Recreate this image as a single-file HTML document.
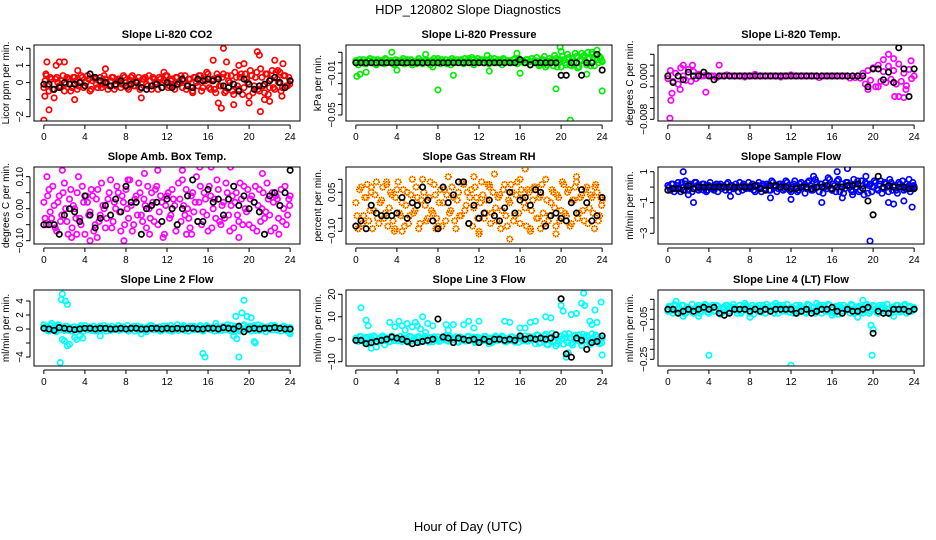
<!DOCTYPE html>
<html><head><meta charset="utf-8"><style>
html,body{margin:0;padding:0;background:#fff;}
svg{display:block;font-family:"Liberation Sans",Arial,sans-serif;}
</style></head><body>
<svg id="chart" width="936" height="540" viewBox="0 0 936 540">
<text x="468" y="14" text-anchor="middle" font-size="13">HDP_120802  Slope Diagnostics</text>
<text x="468" y="531" text-anchor="middle" font-size="13">Hour of Day (UTC)</text>
</svg>
<script>
const hours=[0,0.25,0.5,0.75,1,1.25,1.5,1.75,2,2.25,2.5,2.75,3,3.25,3.5,3.75,4,4.25,4.5,4.75,5,5.25,5.5,5.75,6,6.25,6.5,6.75,7,7.25,7.5,7.75,8,8.25,8.5,8.75,9,9.25,9.5,9.75,10,10.25,10.5,10.75,11,11.25,11.5,11.75,12,12.25,12.5,12.75,13,13.25,13.5,13.75,14,14.25,14.5,14.75,15,15.25,15.5,15.75,16,16.25,16.5,16.75,17,17.25,17.5,17.75,18,18.25,18.5,18.75,19,19.25,19.5,19.75,20,20.25,20.5,20.75,21,21.25,21.5,21.75,22,22.25,22.5,22.75,23,23.25,23.5,23.75,24];
const hoursB=[0.12,0.37,0.62,0.87,1.12,1.37,1.62,1.87,2.12,2.37,2.62,2.87,3.12,3.37,3.62,3.87,4.12,4.37,4.62,4.87,5.12,5.37,5.62,5.87,6.12,6.37,6.62,6.87,7.12,7.37,7.62,7.87,8.12,8.37,8.62,8.87,9.12,9.37,9.62,9.87,10.12,10.37,10.62,10.87,11.12,11.37,11.62,11.87,12.12,12.37,12.62,12.87,13.12,13.37,13.62,13.87,14.12,14.37,14.62,14.87,15.12,15.37,15.62,15.87,16.12,16.37,16.62,16.87,17.12,17.37,17.62,17.87,18.12,18.37,18.62,18.87,19.12,19.37,19.62,19.87,20.12,20.37,20.62,20.87,21.12,21.37,21.62,21.87,22.12,22.37,22.62,22.87,23.12,23.37,23.62,23.87,23.95];
const blackHours=[0,0.5,1,1.5,2,2.5,3,3.5,4,4.5,5,5.5,6,6.5,7,7.5,8,8.5,9,9.5,10,10.5,11,11.5,12,12.5,13,13.5,14,14.5,15,15.5,16,16.5,17,17.5,18,18.5,19,19.5,20,20.5,21,21.5,22,22.5,23,23.5,24];
const xTicks=[0,4,8,12,16,20,24];

// Panel 1 CO2
const co2Band=[-0.3,0.4,-0.5,0.2,-0.4,0.3,-0.2,0.1,-0.5,0.3,0.2,-0.3,0.3,-0.4,0.0,0.3,-0.2,0.4,-0.5,0.1,0.2,-0.3,0.3,-0.1,0.2,-0.4,0.1,0.3,-0.2,0.2,-0.3,0.4,0.0,-0.4,0.3,-0.2,0.1,0.3,-0.3,0.2,-0.1,0.4,-0.4,0.2,0.0,0.3,-0.3,0.1,0.4,-0.2,0.2,-0.4,0.3,0.0,-0.3,0.4,-0.1,0.2,-0.5,0.3,-0.2,0.4,-0.3,0.1,0.5,-0.4,0.2,-0.6,0.3,-0.2,0.5,-0.5,0.1,0.4,-0.7,0.3,-0.4,0.5,-0.3,0.2,-0.8,0.4,-0.2,0.6,-0.5,0.3,-0.6,0.5,-0.3,0.7,-0.4,0.2,0.6,-0.3,0.4,-0.2,0.1];
const co2BandB=[0.1,-0.2,0.3,-0.4,0.2,0.0,-0.3,0.4,-0.1,0.2,-0.5,0.3,0.1,-0.2,0.4,-0.3,0.0,0.2,-0.4,0.3,-0.1,0.1,-0.3,0.4,0.0,-0.2,0.3,-0.4,0.1,0.2,-0.1,0.3,-0.3,0.1,0.4,-0.2,0.0,-0.4,0.2,0.3,-0.2,0.1,0.3,-0.1,-0.4,0.2,0.0,0.4,-0.3,0.1,-0.2,0.3,-0.1,0.4,0.1,-0.4,0.2,-0.3,0.3,0.0,0.4,-0.5,0.2,0.6,-0.3,0.1,-0.4,0.5,-0.2,0.3,-0.6,0.4,0.0,-0.5,0.6,-0.2,0.3,-0.7,0.5,0.0,0.7,-0.6,0.3,-0.4,0.8,-0.2,0.5,-0.7,0.2,-0.3,0.6,0.0,-0.5,0.4,-0.2,0.3,-0.1];
const co2OutT=[0,0.1,0.3,0.5,0.2,1,1.5,2,1.2,3,3.3,6,9.5,11.7,14.5,16.5,17,17.3,17.5,17.8,18.5,19,19.5,20,20.8,21,21.1,21.5,22,22.5,23.2,23.3,22.8];
const co2OutV=[-2.2,-0.8,1.2,-1.6,0.5,-0.9,1.2,1.2,1.0,-1.0,0.7,0.8,-0.9,0.6,-0.6,1.3,-1.2,-1.5,2.0,1.2,-1.3,1.0,1.1,-1.2,1.8,1.6,-1.7,-1.0,-1.1,1.3,-0.8,1.1,0.7];
const co2Black=[-0.1,-0.1,-0.4,-0.3,0.0,-0.1,-0.1,0.0,-0.2,0.5,0.3,0.1,0.0,-0.2,-0.1,0.1,-0.2,-0.1,0.0,-0.3,-0.4,-0.2,-0.1,-0.3,0.0,-0.3,-0.1,0.2,-0.2,-0.3,0.2,0.1,0.2,0.1,0.2,-0.2,-0.3,-0.1,-0.5,0.2,-0.1,-0.4,-0.2,-0.1,0.1,0.3,0.0,-0.3,0.1];

// Panel 2 pressure
const presBand=[0.002,-0.002,0.001,0.003,-0.001,0.002,0.000,0.003,-0.002,0.001,0.002,-0.001,0.003,0.000,0.002,-0.002,0.001,0.000,0.002,-0.001,0.003,0.000,-0.002,0.001,0.002,0.000,-0.001,0.002,0.001,-0.002,0.000,0.002,0.004,-0.001,0.001,0.003,0.000,-0.002,0.002,0.001,0.000,0.003,-0.001,0.001,0.004,0.000,-0.002,0.002,0.001,0.003,0.000,0.001,-0.001,0.002,0.004,0.000,0.001,-0.002,0.003,0.001,0.002,0.000,0.004,-0.001,0.001,0.002,0.000,0.003,-0.002,0.001,0.002,0.000,-0.002,0.003,-0.004,0.001,0.002,-0.003,0.004,0.000,-0.004,0.003,-0.002,0.005,-0.003,0.001,0.006,-0.004,0.002,0.007,-0.002,0.004,0.008,-0.003,0.003,0.006,0.001];
const presBandB=[0.000,0.003,0.001,-0.001,0.002,0.004,0.001,-0.001,0.003,0.002,0.000,0.004,0.001,0.002,-0.001,0.003,0.002,0.001,0.004,0.000,0.002,0.003,0.001,-0.001,0.004,0.002,0.000,0.003,0.001,0.002,0.004,0.000,0.002,0.003,0.001,-0.001,0.002,0.004,0.000,0.003,0.002,0.001,0.004,0.002,0.000,0.003,0.001,0.004,0.002,0.000,0.003,0.002,0.004,0.001,0.000,0.003,0.002,0.004,0.001,0.002,0.000,0.003,0.001,0.004,0.002,0.000,0.003,0.001,0.004,0.002,0.005,-0.003,0.003,0.006,-0.002,0.004,0.001,0.007,-0.004,0.003,0.006,0.000,0.008,-0.002,0.004,0.009,-0.005,0.003,0.006,0.001,0.010,-0.003,0.005,0.007,0.000,0.004,0.002];
const presOutT=[0.1,0.4,1,3.5,4,6.8,7.5,8,9.5,11.3,12.8,13,15.7,16,19.5,20,20.9,22,22.5,23,24,23.5,19.9];
const presOutV=[-0.013,-0.011,-0.009,0.010,-0.007,0.008,-0.004,-0.026,-0.012,0.005,0.007,-0.008,0.009,-0.010,-0.025,0.011,-0.055,0.009,-0.011,0.010,-0.027,0.012,0.015];
const presBlack=[0.000,0.000,0.000,0.000,0.000,0.000,0.000,0.000,0.000,0.000,0.000,0.000,0.000,0.000,0.000,0.000,0.000,0.000,0.000,0.000,0.000,0.000,0.000,0.000,0.000,0.000,0.000,0.000,0.000,0.000,0.000,0.000,0.003,0.000,-0.002,0.000,0.000,0.000,0.000,0.000,-0.012,-0.012,0.000,0.000,-0.012,0.000,0.000,0.008,-0.007];

// Panel 3 temperature
const tempBand=[-0.0005,0.001,-0.001,0.0005,-0.0015,0.0015,0.0,-0.0008,0.0012,-0.001,0.0008,-0.0005,0.0003,0,0,0.0002,0,0,0,-0.0003,0,0,0,0.0002,0,0,0,0,0,0,-0.0002,0,0,0,0.0003,0,0,0,0,0,0,0,0,0,-0.0002,0,0,0,0.0002,0,0,0,0,0,0,0,0,0,0,-0.0003,0,0,0,0,0,0,0,0,0,0,0,-0.0004,0,-0.0003,0,-0.0004,0.0005,-0.0015,0.001,-0.0008,0.0015,-0.002,0.002,-0.001,0.0008,-0.0012,0.0018,-0.0006,0.001,-0.0015,0.0022,-0.001,0.0005,-0.0018,0.0012,-0.0005,0.0];
const tempOutT=[0.2,0.3,0.4,1.2,1.5,2.4,3.7,5,19.5,20.5,21,21.5,22,22.5,23,23.7,23.2,22.1];
const tempOutV=[-0.0078,-0.0045,-0.0032,-0.0025,0.002,0.002,-0.003,0.002,-0.0025,-0.002,0.003,0.004,0.0032,-0.0038,-0.004,0.0028,-0.0025,-0.0038];
const tempBlack=[0,-0.0012,0,-0.0007,0.0007,0,0,0.0007,0,-0.0007,0,0,0,0,0,0,0,0,0,0,0,0,0,0,0,0,0,0,0,0,0,0,0,0,0,0,0,0,0,-0.002,0.0013,0.0013,-0.0007,0.0007,-0.0012,0.0052,0.0013,-0.0038,0.0013];

// Panel 4 ambient box temp
const ambBandA=[0.02,-0.05,0.06,-0.03,0.01,-0.07,0.04,-0.02,0.08,-0.04,0.03,-0.06,0.00,0.05,-0.03,0.07,-0.08,0.02,-0.01,0.04,-0.05,0.06,-0.02,0.01,-0.06,0.03,0.09,-0.04,0.00,0.05,-0.07,0.02,0.06,-0.03,0.01,-0.05,0.04,0.08,-0.02,0.03,-0.06,0.00,0.05,-0.04,0.07,-0.01,0.02,-0.08,0.04,-0.03,0.06,0.01,-0.05,0.03,0.09,-0.02,0.00,-0.06,0.05,0.02,-0.04,0.07,-0.01,0.03,-0.07,0.04,0.00,-0.03,0.06,-0.05,0.02,0.08,-0.02,0.01,-0.06,0.05,-0.04,0.03,0.07,-0.01,-0.05,0.04,0.02,-0.07,0.06,0.00,-0.03,0.08,-0.02,0.05,-0.06,0.03,0.01,-0.04,0.07,-0.02,0.04];
const ambBandB=[-0.03,0.04,-0.01,0.07,-0.06,0.02,-0.04,0.05,0.00,-0.08,0.06,0.01,-0.03,0.10,-0.05,0.02,0.04,-0.02,0.06,-0.07,0.03,-0.04,0.08,0.00,-0.03,0.05,-0.06,0.02,0.07,-0.01,0.04,-0.05,0.00,0.09,-0.07,0.03,-0.02,0.05,-0.04,0.01,0.07,-0.03,0.02,0.06,-0.05,0.04,-0.09,0.01,0.05,-0.02,0.03,-0.07,0.08,-0.04,0.01,0.06,-0.03,0.04,-0.01,0.10,0.02,-0.05,0.05,-0.02,0.07,-0.06,0.03,0.09,-0.04,0.01,-0.03,0.05,-0.07,0.04,0.02,-0.02,0.08,-0.05,0.00,0.06,0.03,-0.06,0.07,0.01,-0.04,0.05,-0.01,0.03,-0.07,0.02,0.04,-0.03,0.06,0.00,-0.05,0.03,0.01];
const ambOutT=[0.3,1.8,2.7,3.2,4.5,5.2,7.8,9.8,10.3,11.1,13.5,14.4,15.2,16.3,18.2,19,21.3,22.9,8.2,13.9];
const ambOutV=[0.10,0.12,-0.09,-0.08,-0.10,-0.09,-0.10,0.11,-0.08,0.12,0.12,-0.08,0.13,0.13,0.13,-0.09,0.11,-0.08,0.09,-0.08];
const ambBlack=[-0.05,-0.05,-0.05,-0.08,-0.02,0.00,-0.01,-0.04,0.04,-0.02,-0.06,-0.03,0.01,-0.02,0.03,-0.01,0.07,0.02,0.02,-0.08,0.00,0.01,0.02,-0.04,0.03,0.00,-0.05,0.00,0.04,0.09,-0.04,-0.04,0.06,0.02,0.03,-0.02,0.03,0.07,0.01,0.04,0.00,0.02,-0.01,-0.08,0.04,0.05,0.01,0.05,0.12];

// Panel 5 gas stream RH
const rhBandA=[0.01,-0.09,0.07,-0.04,0.03,-0.06,0.05,-0.02,0.09,-0.07,0.02,-0.05,0.08,-0.01,0.04,-0.10,0.06,-0.03,0.01,-0.08,0.05,-0.04,0.10,-0.02,0.03,-0.07,0.07,0.00,-0.05,0.09,-0.03,0.04,-0.08,0.06,0.01,-0.06,0.11,-0.02,0.03,-0.09,0.05,-0.04,0.08,0.00,-0.07,0.06,-0.01,0.03,-0.10,0.09,-0.05,0.02,0.07,-0.03,0.12,-0.06,0.04,-0.02,0.08,-0.08,0.01,0.05,-0.04,0.09,-0.07,0.03,-0.01,0.06,-0.09,0.02,0.07,-0.05,0.04,-0.03,0.10,-0.06,0.01,0.05,-0.08,0.03,-0.02,0.08,-0.04,0.06,-0.07,0.02,0.09,-0.03,0.04,-0.06,0.07,-0.01,0.03,-0.09,0.05,-0.04,0.02];
const rhBandB=[-0.04,0.06,-0.07,0.03,0.08,-0.02,-0.09,0.04,-0.05,0.01,0.07,-0.03,-0.08,0.05,-0.06,0.03,0.09,-0.04,0.06,0.00,-0.07,0.04,-0.03,0.07,-0.09,0.02,0.05,-0.06,0.03,-0.02,0.08,-0.05,0.01,-0.08,0.06,0.04,-0.03,0.07,-0.06,0.02,-0.04,0.09,-0.02,0.05,0.03,-0.08,0.07,-0.05,0.01,0.04,-0.03,0.08,-0.07,0.05,-0.01,0.03,-0.09,0.06,-0.04,0.02,0.08,-0.06,0.04,-0.03,0.06,0.01,-0.08,0.05,-0.02,0.07,-0.05,0.03,0.08,-0.07,0.02,-0.04,0.06,-0.01,0.04,-0.06,0.09,-0.03,0.05,-0.08,0.02,0.07,-0.05,0.03,-0.02,0.06,-0.07,0.04,-0.03,0.08,-0.06,0.03,0.00];
const rhOutT=[0.2,1.5,3,3.8,4.5,6.5,7.8,11.5,12,13,15,16.5,17,18,19.5,21.5,23.3,16];
const rhOutV=[-0.09,0.07,0.09,-0.09,-0.10,0.10,-0.09,0.11,-0.11,0.08,-0.13,0.14,-0.10,-0.09,-0.11,0.11,0.07,0.10];
const rhBlack=[-0.08,-0.06,-0.09,0.00,-0.03,-0.04,-0.04,-0.04,-0.03,0.03,-0.05,0.01,0.00,0.07,0.02,-0.06,-0.09,0.07,0.01,0.04,0.09,0.09,-0.07,0.00,-0.05,-0.03,0.02,-0.04,-0.06,-0.01,0.05,-0.03,0.02,0.03,0.00,0.06,0.05,-0.08,-0.04,-0.03,-0.05,-0.06,0.01,-0.03,0.06,0.01,-0.06,-0.04,0.03];

// Panel 6 sample flow
const sfBand=[0.1,-0.2,0.2,-0.1,0.3,-0.3,0.0,0.2,-0.2,0.1,-0.1,0.3,-0.2,0.0,0.2,-0.3,0.1,0.0,-0.2,0.2,0.1,-0.1,0.0,0.2,-0.2,0.1,-0.1,0.0,0.3,-0.2,0.1,0.0,-0.1,0.2,-0.3,0.1,0.0,0.2,-0.1,0.1,-0.2,0.3,0.0,-0.1,0.2,-0.2,0.4,0.1,-0.3,0.2,0.0,-0.2,0.3,0.1,-0.1,0.4,-0.2,0.0,0.3,-0.3,0.2,0.0,-0.1,0.5,-0.2,0.1,0.4,-0.3,0.2,-0.1,0.3,0.0,-0.3,0.2,0.4,-0.2,0.1,0.3,-0.4,0.2,0.0,0.3,-0.2,0.4,-0.1,0.2,-0.3,0.3,0.1,-0.2,0.3,0.0,-0.2,0.2,0.1,-0.1,0.0];
const sfBandB=[0.0,0.2,-0.3,0.1,-0.1,0.3,-0.2,0.0,0.2,-0.3,0.3,0.1,-0.1,0.2,0.0,-0.2,0.3,-0.1,0.1,-0.3,0.2,0.0,-0.2,0.3,0.1,-0.1,0.2,-0.3,0.0,0.2,-0.1,0.3,0.1,-0.2,0.0,0.3,-0.3,0.1,0.2,-0.2,0.4,0.0,-0.3,0.2,0.1,-0.1,0.3,-0.2,0.0,0.4,-0.3,0.2,0.0,-0.4,0.3,0.1,-0.2,0.5,0.0,0.2,-0.4,0.3,0.6,-0.1,0.2,-0.3,0.5,0.0,-0.4,0.3,0.1,-0.2,0.5,0.0,-0.3,0.4,-0.5,0.2,0.1,-0.3,0.4,-0.1,0.2,-0.4,0.3,0.0,0.5,-0.2,0.1,-0.4,0.2,0.4,-0.1,0.0,-0.3,0.3,0.1];
const sfOutT=[1.5,2,2.5,3.5,10,12,15,16,17,16.5,17.5,18,19.3,19.7,21.5,22,23,23.8,23.5,1.7,6.1,14.2];
const sfOutV=[1.0,-0.5,-1.0,-0.2,-0.7,-0.8,-1.0,-0.2,-0.7,1.0,1.2,-0.5,0.7,-3.5,-1.0,-1.1,-0.9,-1.3,0.5,0.4,-0.6,0.7];
const sfBlack=[-0.2,-0.1,-0.1,-0.2,0.1,-0.1,0.0,0.0,0.0,0.0,0.0,0.0,0.0,0.0,0.0,0.0,0.0,0.1,-0.1,-0.2,0.1,0.1,0.0,0.0,-0.1,-0.1,0.0,0.0,-0.1,0.0,0.0,0.1,-0.1,0.0,0.0,0.1,0.1,0.2,-0.1,-0.9,-1.8,0.7,0.0,0.1,0.0,0.0,0.0,-0.1,-0.1];

// Panel 7 line 2 flow
const l2Band=[0.6,0.2,-0.3,0.8,0.1,-0.4,0.5,0.0,-0.2,0.4,0.1,-0.3,0.3,0.0,-0.2,0.2,0.5,-0.1,0.3,0.0,-0.3,0.2,0.4,-0.1,0.1,0.3,-0.2,0.0,0.2,0.5,-0.1,0.3,0.0,-0.3,0.2,0.4,0.0,-0.2,0.3,0.1,-0.4,0.2,0.5,0.0,-0.1,0.3,-0.2,0.1,0.4,0.0,-0.3,0.2,0.6,0.0,0.3,-0.2,0.1,0.4,-0.1,0.2,0.0,0.5,-0.3,0.1,0.3,-0.1,0.2,0.8,-0.2,0.0,0.4,-0.1,0.2,0.5,-0.4,0.1,0.3,-0.2,0.6,0.0,0.3,-0.3,0.5,0.1,-0.2,0.4,0.0,0.3,-0.1,0.2,0.5,-0.2,0.1,0.3,0.0,-0.3,0.2];
const l2BandB=[0.3,-0.2,0.5,0.1,-0.3,0.6,-0.1,0.2,0.4,-0.2,0.0,0.3,-0.1,0.2,0.5,-0.3,0.1,0.3,-0.2,0.4,0.1,-0.1,0.0,0.5,-0.3,0.2,0.4,-0.1,0.1,-0.2,0.3,0.0,0.5,-0.1,0.2,-0.3,0.4,0.1,0.0,-0.2,0.3,0.5,-0.1,0.2,0.0,-0.3,0.4,0.1,-0.2,0.5,0.2,0.0,-0.2,0.3,0.5,0.1,-0.3,0.2,0.4,-0.1,0.3,-0.2,0.1,0.5,0.0,0.2,-0.3,0.4,0.1,-0.2,0.3,0.6,-0.2,0.0,0.4,0.2,-0.3,0.5,0.1,-0.1,0.4,0.2,-0.2,0.6,0.0,0.3,-0.4,0.2,0.5,-0.1,0.3,0.1,-0.3,0.4,0.2,0.0,-0.5];
const l2OutT=[1.8,1.7,2.1,2.3,1.6,1.8,2,2.5,2.3,3.0,3.2,3.5,3.8,5.5,15.5,15.7,18.5,18.8,19.0,18.7,19.3,19.5,19.8,20.2,20.5,20.6,24,9.5];
const l2OutV=[5.0,4.2,4.0,3.5,-4.8,-1.5,-1.7,-2.2,-2.4,-1.2,-1.5,-1.0,-1.3,-1.0,-3.5,-4.0,-1.0,-1.4,-4.0,1.8,2.3,4.1,1.8,1.6,-1.8,-2.0,-0.7,-0.7];
const l2Black=[0.1,0.0,-0.2,0.2,0.1,0.0,-0.1,0.0,0.1,0.1,0.0,0.1,0.1,0.0,0.0,0.1,0.0,0.1,0.1,0.0,0.0,0.1,0.1,0.0,0.1,0.0,0.1,0.0,0.1,0.1,0.0,0.0,0.1,0.1,0.0,0.2,0.1,0.0,0.4,-0.4,0.0,0.1,0.0,0.1,0.1,0.2,0.1,0.0,0.0];

// Panel 8 line 3 flow
const l3Band=[0.5,-1.0,1.2,-0.5,0.8,-1.5,0.3,1.5,-0.8,0.0,1.0,-0.3,0.6,-1.2,1.4,-0.6,0.2,1.1,-1.0,0.4,-0.2,1.3,-0.7,0.5,0.9,-1.3,0.1,1.2,-0.4,0.7,-1.1,0.3,1.0,-0.6,0.0,1.5,-0.9,0.4,-0.2,1.1,-1.4,0.6,0.2,-0.8,1.3,-0.3,0.9,-1.2,0.5,0.0,1.2,-0.7,0.3,-1.5,1.0,-0.2,0.6,1.4,-1.0,0.2,-0.5,1.1,-1.3,0.4,0.8,-0.6,1.5,-0.9,0.1,1.0,-2.0,1.8,-1.5,0.5,2.2,-2.5,1.0,-1.2,2.0,-0.8,1.5,-2.2,0.6,2.5,-1.8,1.2,-0.5,2.0,-2.8,0.9,1.6,-1.5,2.4,-0.7,1.1,-2.0,0.5];
const l3BandB=[-0.8,1.2,0.0,-1.5,0.6,1.0,-0.3,0.8,-1.2,0.4,1.5,-0.6,0.2,-1.0,0.9,0.3,-0.7,1.3,-0.2,0.6,-1.4,1.0,0.1,-0.5,1.2,-0.9,0.4,0.7,-1.3,0.2,1.1,-0.4,-1.0,0.8,0.3,-0.6,1.4,-0.2,0.5,-1.1,1.0,0.0,-0.8,1.2,-0.4,0.6,-1.5,0.9,0.2,-0.7,1.3,-0.1,0.5,-1.0,1.4,-0.5,0.3,0.8,-1.2,0.1,1.1,-0.6,0.4,-1.4,0.9,0.0,-0.8,1.2,-0.3,0.6,2.0,-1.8,0.5,1.5,-2.4,0.8,2.6,-1.0,-2.0,1.2,0.3,2.4,-1.5,0.6,-2.6,1.8,0.0,-1.2,2.2,-0.4,1.0,-2.2,0.6,1.9,-1.0,0.3,-1.6];
const l3OutT=[0.5,1,1.2,1.5,2,2.8,3.3,3.8,4.5,5,5.5,6,6.5,7,7.5,4.2,4.8,6.8,9,8.8,9.5,10.5,11,11.5,12,13,14.5,15,16,16.5,17,17.5,18.5,19,19.5,20,20.2,20.5,21,21.5,22,22.3,22.8,23,23.3,23.5,23.9,24,22.2,20.7,5.8,6.3];
const l3OutV=[14,8.5,6,-4,-3.5,-2.5,7.5,5.5,6,7,5.5,6,10,7,6,8,4,3,4,6.5,6.5,6.5,8,5,8,-2,8,7.5,5,5,7.5,8,10,9.5,-3,15,12.5,-8,11,11.5,16,15,8,6.5,13,7.5,16.5,-7,20.5,-6,7.5,4.5];
const l3Black=[-0.5,-0.5,-2,-1.5,-1,-0.5,0,1,0.5,0,-1,-2,-1.5,-1,-0.5,0,9,1,0.5,-1.5,0.5,0,-0.5,0,-1.5,0,-1,0,0,-0.5,0,-0.5,1.5,0,0.5,0,0.5,0,0.5,2,18,-6.5,-8,0.5,-0.5,-4.5,-1.5,-1,1.5];

// Panel 9 line 4 flow
const l4Band=[-0.01,0.01,-0.02,0.02,0.00,-0.01,0.02,-0.02,0.01,0.00,-0.02,0.01,0.02,-0.01,0.00,0.02,-0.02,0.01,-0.01,0.02,0.00,-0.02,0.01,0.02,-0.01,0.00,0.01,-0.02,0.02,-0.01,0.01,0.00,-0.02,0.02,0.01,-0.01,0.00,0.02,-0.02,0.01,-0.01,0.02,0.00,-0.02,0.01,0.02,-0.01,0.00,0.01,-0.02,0.02,-0.01,0.01,0.00,-0.02,0.02,0.01,-0.01,0.00,0.02,-0.02,0.01,-0.01,0.02,0.00,-0.02,0.01,0.02,-0.01,0.00,0.01,-0.02,0.02,-0.01,0.01,0.00,-0.02,0.02,0.01,-0.01,0.02,0.00,-0.02,0.01,0.02,-0.01,0.00,-0.02,0.01,0.02,-0.01,0.00,0.02,-0.02,0.01,-0.01,0.00];
const l4BandB=[0.015,-0.005,0.025,-0.015,0.005,0.02,-0.02,0.01,-0.005,0.025,-0.01,0.005,-0.02,0.015,0.025,-0.015,0.0,0.02,-0.01,0.015,-0.025,0.005,0.02,-0.015,0.01,0.025,-0.005,0.0,-0.02,0.015,0.02,-0.01,0.005,-0.025,0.01,0.02,-0.015,0.005,0.025,-0.005,0.0,-0.02,0.015,0.02,-0.01,0.005,0.025,-0.015,0.01,0.0,-0.02,0.02,0.005,-0.015,0.025,-0.005,0.01,-0.02,0.015,0.0,0.02,-0.01,0.025,-0.015,0.005,0.015,-0.025,0.01,0.02,-0.005,0.0,0.025,-0.02,0.01,0.015,-0.01,0.005,0.025,-0.02,0.0,0.015,-0.015,0.02,0.005,-0.01,0.025,-0.02,0.01,0.0,0.02,-0.015,0.005,0.025,-0.01,0.015,-0.005,0.01];
const l4OutT=[0.8,1.5,3.0,4,7.5,8,12,16,18.5,19,19.8,19.9,20,22,10.5,14.5];
const l4OutV=[0.04,-0.035,-0.035,-0.23,0.03,-0.04,-0.28,-0.03,-0.04,0.045,-0.08,-0.23,-0.1,-0.035,0.03,0.03];
const l4Black=[0.00,0.00,-0.02,-0.01,0.00,-0.01,0.00,0.01,0.00,0.01,-0.02,-0.03,-0.02,0.00,0.00,0.00,-0.01,0.00,-0.01,0.00,-0.01,0.00,0.00,0.00,0.00,-0.02,-0.01,0.00,-0.02,-0.01,0.00,0.00,0.01,-0.01,-0.02,0.00,-0.01,-0.01,0.00,0.01,-0.12,-0.01,-0.02,-0.02,0.00,0.00,0.00,-0.01,0.00];

const NS='http://www.w3.org/2000/svg';
const svg=document.getElementById('chart');
function mk(tag,attrs,parent){const e=document.createElementNS(NS,tag);for(const k in attrs)e.setAttribute(k,attrs[k]);(parent||svg).appendChild(e);return e;}

const colX=[34,346,658], rowY=[45,167,290], rowH=[76,77,76], W=266;
const panels=[
 {key:'co2',title:'Slope Li-820 CO2',ylab:'Licor ppm per min.',c:0,r:0,va:2,pa:48.3,vb:-2,pb:116.7,ticks:[2,1,0,-1,-2],labels:['2','1','0','','−2'],color:'#ff0000',bands:[co2Band,co2BandB],oT:co2OutT,oV:co2OutV,blk:co2Black},
 {key:'pressure',title:'Slope Li-820 Pressure',ylab:'kPa per min.',c:1,r:0,va:0.01,pa:52.3,vb:-0.05,pb:115,ticks:[0.01,0,-0.01,-0.02,-0.03,-0.04,-0.05],labels:['','','−0.01','','','','−0.05'],color:'#00ee00',bands:[presBand,presBandB],oT:presOutT,oV:presOutV,blk:presBlack},
 {key:'temp',title:'Slope Li-820 Temp.',ylab:'degrees C per min.',c:2,r:0,va:0.004,pa:54.3,vb:-0.008,pb:119.3,ticks:[0.004,0.002,0,-0.002,-0.004,-0.006,-0.008],labels:['','','0.000','','','','−0.008'],color:'#ff00ff',bands:[tempBand],oT:tempOutT,oV:tempOutV,blk:tempBlack},
 {key:'ambbox',title:'Slope Amb. Box Temp.',ylab:'degrees C per min.',c:0,r:1,va:0.10,pa:176.7,vb:-0.10,pb:240.7,ticks:[0.10,0.05,0,-0.05,-0.10],labels:['0.10','','0.00','','−0.10'],color:'#ff00ff',bands:[ambBandA,ambBandB],oT:ambOutT,oV:ambOutV,blk:ambBlack},
 {key:'rh',title:'Slope Gas Stream RH',ylab:'percent per min.',c:1,r:1,va:0.10,pa:179.3,vb:-0.10,pb:231.3,ticks:[0.10,0.05,0,-0.05,-0.10],labels:['','0.05','','','−0.10'],color:'rh',bands:[rhBandA,rhBandB],oT:rhOutT,oV:rhOutV,blk:rhBlack},
 {key:'sampleflow',title:'Slope Sample Flow',ylab:'ml/min per min.',c:2,r:1,va:1,pa:171.7,vb:-3,pb:233.3,ticks:[1,0,-1,-2,-3],labels:['1','','−1','','−3'],color:'#0000ff',bands:[sfBand,sfBandB],oT:sfOutT,oV:sfOutV,blk:sfBlack},
 {key:'line2',title:'Slope Line 2 Flow',ylab:'ml/min per min.',c:0,r:2,va:4,pa:301,vb:-4,pb:357,ticks:[4,2,0,-2,-4],labels:['4','2','0','','−4'],color:'#00ffff',bands:[l2Band,l2BandB],oT:l2OutT,oV:l2OutV,blk:l2Black},
 {key:'line3',title:'Slope Line 3 Flow',ylab:'ml/min per min.',c:1,r:2,va:20,pa:294.3,vb:-10,pb:361.7,ticks:[20,10,0,-10],labels:['20','10','0','−10'],color:'#00ffff',bands:[l3Band,l3BandB],oT:l3OutT,oV:l3OutV,blk:l3Black},
 {key:'line4',title:'Slope Line 4 (LT) Flow',ylab:'ml/min per min.',c:2,r:2,va:0.05,pa:299.3,vb:-0.25,pb:359.3,ticks:[0.05,0,-0.05,-0.10,-0.15,-0.20,-0.25],labels:['','','−0.05','','','','−0.25'],color:'#00ffff',bands:[l4Band,l4BandB],oT:l4OutT,oV:l4OutV,blk:l4Black}
];

function dot(g,x,y,color){
  if(color==='rh'){
    const a=mk('circle',{cx:x,cy:y,r:2.7,fill:'none',stroke:'#ffee00','stroke-width':1.7},g);
    
    
    const b=mk('circle',{cx:x,cy:y,r:2.7,fill:'none',stroke:'#ff2000','stroke-width':1.7,'stroke-dasharray':'1 1'},g);
    
    
  } else {
    const c=mk('circle',{cx:x,cy:y,r:2.7,fill:'none',stroke:color,'stroke-width':1.7},g);
    
    
  }
}

panels.forEach(p=>{
  const x0=colX[p.c], y0=rowY[p.r], h=rowH[p.r];
  const g=mk('g',{});
  
  
  const sx=v=>x0+(v+0.96)/25.92*W;
  const sy=v=>p.pa+(v-p.va)*(p.pb-p.pa)/(p.vb-p.va);
  const clipId='clip-'+p.key;
  const cp=mk('clipPath',{id:clipId},g);
  mk('rect',{x:x0,y:y0,width:W,height:h},cp);
  const pts=mk('g',{'clip-path':'url(#'+clipId+')'},g);
  
  
  p.bands.forEach((arr,bi)=>{
    const hx=bi===0?hours:hoursB;
    const n=Math.min(arr.length,hx.length);
    for(let i=0;i<n;i++) dot(pts,sx(hx[i]),sy(arr[i]),p.color);
  });
  const no=Math.min(p.oT.length,p.oV.length);
  for(let i=0;i<no;i++) dot(pts,sx(p.oT[i]),sy(p.oV[i]),p.color);
  const nb=Math.min(p.blk.length,blackHours.length);
  for(let i=0;i<nb;i++) dot(pts,sx(blackHours[i]),sy(p.blk[i]),'#000');
  const box=mk('rect',{x:x0,y:y0,width:W,height:h,fill:'none',stroke:'#000','stroke-width':1},g);
  
  
  const t=mk('text',{x:x0+W/2,y:y0-7,'text-anchor':'middle','font-size':11,'font-weight':'bold'},g);
  t.textContent=p.title;
  
  
  const xb=y0+h;
  mk('line',{x1:sx(0),x2:sx(24),y1:xb+4,y2:xb+4,stroke:'#000'},g);
  xTicks.forEach(v=>{
    mk('line',{x1:sx(v),x2:sx(v),y1:xb+4,y2:xb+8,stroke:'#000'},g);
    const lt=mk('text',{x:sx(v),y:xb+19,'text-anchor':'middle','font-size':10},g);
    lt.textContent=String(v);
    
    
  });
  const yl=x0-4;
  mk('line',{x1:yl,x2:yl,y1:sy(p.ticks[0]),y2:sy(p.ticks[p.ticks.length-1]),stroke:'#000'},g);
  p.ticks.forEach((v,i)=>{
    const yy=sy(v);
    mk('line',{x1:yl-4,x2:yl,y1:yy,y2:yy,stroke:'#000'},g);
    if(p.labels[i]){
      const lt=mk('text',{x:yl-7,y:yy,'text-anchor':'middle','font-size':10,transform:'rotate(-90 '+(yl-7)+' '+yy+')'},g);
      lt.textContent=p.labels[i];
      
      
    }
  });
  const ylx=x0-25, yly=y0+h/2;
  const ylab=mk('text',{x:ylx,y:yly,'text-anchor':'middle','font-size':10,transform:'rotate(-90 '+ylx+' '+yly+')'},g);
  ylab.textContent=p.ylab;
  
  
});
</script>
</body></html>
